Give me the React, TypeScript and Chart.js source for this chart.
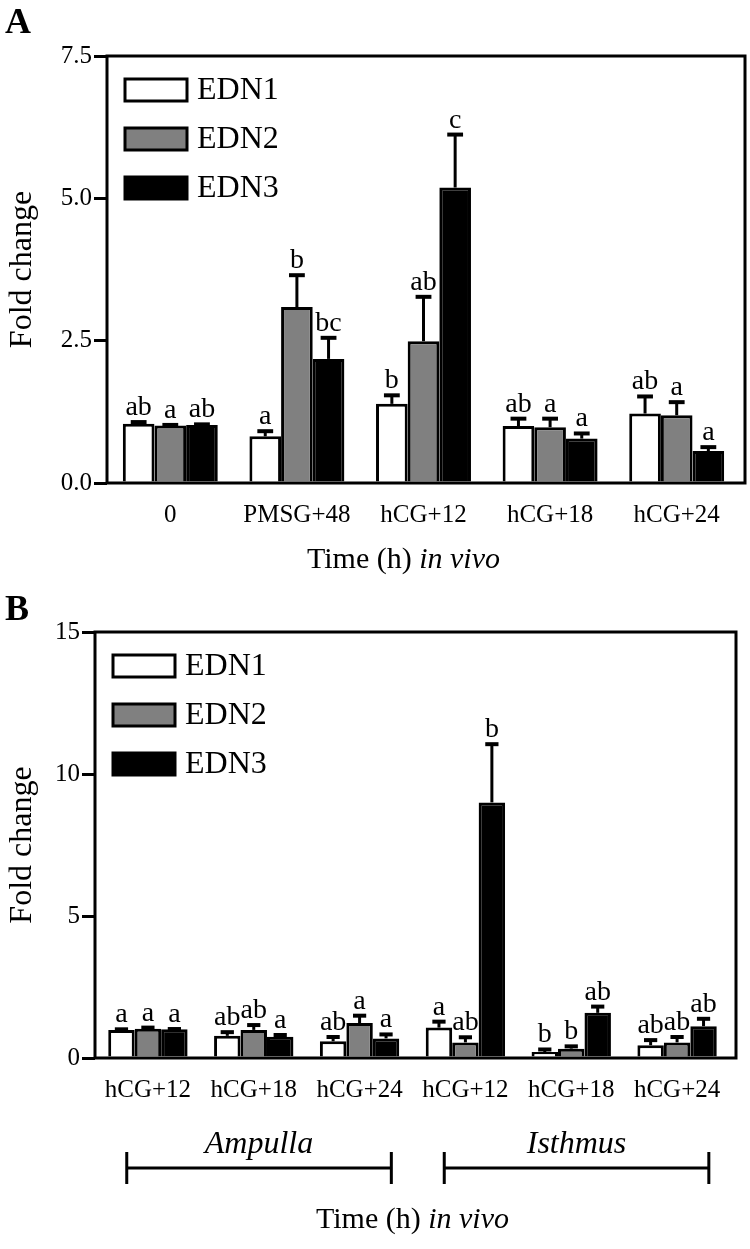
import React, { useEffect, useRef } from 'react';
import { Chart, registerables } from 'chart.js';

Chart.register(...registerables);

const FONT = '"Liberation Serif", "Times New Roman", Times, serif';

// ---------- shared ----------
const seriesNames = ['EDN1', 'EDN2', 'EDN3'];
const seriesColors = ['#ffffff', '#808080', '#000000'];

// ---------- panel A ----------
const categoriesA = ['0', 'PMSG+48', 'hCG+12', 'hCG+18', 'hCG+24'];
const edn1A = [1.04, 0.82, 1.39, 1.0, 1.22];
const edn1ErrA = [0.03, 0.09, 0.15, 0.13, 0.3];
const edn2A = [1.01, 3.09, 2.49, 0.98, 1.19];
const edn2ErrA = [0.01, 0.56, 0.78, 0.15, 0.23];
const edn3A = [1.02, 2.18, 5.19, 0.78, 0.56];
const edn3ErrA = [0.01, 0.37, 0.93, 0.09, 0.07];
const lettersEdn1A = ['ab', 'a', 'b', 'ab', 'ab'];
const lettersEdn2A = ['a', 'b', 'ab', 'a', 'a'];
const lettersEdn3A = ['ab', 'bc', 'c', 'a', 'a'];
const yTicksA = ['0.0', '2.5', '5.0', '7.5'];

// ---------- panel B ----------
const categoriesB = ['hCG+12', 'hCG+18', 'hCG+24', 'hCG+12', 'hCG+18', 'hCG+24'];
const edn1B = [0.99, 0.78, 0.59, 1.07, 0.21, 0.45];
const edn1ErrB = [0.02, 0.13, 0.15, 0.21, 0.09, 0.18];
const edn2B = [1.03, 0.99, 1.23, 0.55, 0.33, 0.55];
const edn2ErrB = [0.04, 0.17, 0.26, 0.18, 0.08, 0.19];
const edn3B = [1.01, 0.75, 0.69, 9.0, 1.59, 1.12];
const edn3ErrB = [0.01, 0.06, 0.14, 2.05, 0.22, 0.26];
const lettersEdn1B = ['a', 'ab', 'ab', 'a', 'b', 'ab'];
const lettersEdn2B = ['a', 'ab', 'a', 'ab', 'b', 'ab'];
const lettersEdn3B = ['a', 'a', 'a', 'b', 'ab', 'ab'];
const yTicksB = ['0', '5', '10', '15'];
const tissueGroupsB = ['Ampulla', 'Isthmus'];

const xTitleMain = 'Time (h) ';
const xTitleItalic = 'in vivo';
const yTitle = 'Fold change';

interface PanelOpts {
  panelLetter: string;
  letterY: number;
  catPct: number;
  yMax: number;
  yStep: number;
  yTicks: string[];
  yWidth: number;
  xHeight: number;
  padTop: number;
  padRight: number;
  frameExtra: number;
  xTickSize: number;
  xTickPad: number;
  titleY: number;
  titleShift: number;
  errs: number[][];
  letters: string[][];
  groups?: string[];
  groupTextY?: number;
  bracketY?: number;
}

function makePlugin(o: PanelOpts) {
  return {
    id: 'panelDecor',
    afterDatasetsDraw(chart: any) {
      const ctx = chart.ctx as CanvasRenderingContext2D;
      const yScale = chart.scales.y;
      ctx.save();
      chart.data.datasets.forEach((ds: any, i: number) => {
        const meta = chart.getDatasetMeta(i);
        meta.data.forEach((el: any, j: number) => {
          const v = ds.data[j] as number;
          const e = o.errs[i][j];
          const yTop = yScale.getPixelForValue(v + e);
          const x = el.x;
          const capW = el.width * 0.5;
          ctx.strokeStyle = '#000';
          ctx.lineWidth = 3;
          ctx.beginPath();
          ctx.moveTo(x, el.y);
          ctx.lineTo(x, yTop);
          ctx.stroke();
          ctx.lineWidth = 4;
          ctx.beginPath();
          ctx.moveTo(x - capW / 2, yTop);
          ctx.lineTo(x + capW / 2, yTop);
          ctx.stroke();
          ctx.fillStyle = '#000';
          ctx.font = `28px ${FONT}`;
          ctx.textAlign = 'center';
          ctx.textBaseline = 'alphabetic';
          ctx.fillText(o.letters[i][j], x, yTop - 7);
        });
      });
      ctx.restore();
    },
    afterDraw(chart: any) {
      const ctx = chart.ctx as CanvasRenderingContext2D;
      const { left, right, top, bottom } = chart.chartArea;
      ctx.save();
      // frame
      ctx.strokeStyle = '#000';
      ctx.lineWidth = 3;
      ctx.strokeRect(left, top, right + o.frameExtra - left, bottom - top);
      // legend
      chart.data.datasets.forEach((ds: any, i: number) => {
        const bx = left + 18;
        const by = top + 23 + i * 49;
        ctx.fillStyle = ds.backgroundColor;
        ctx.fillRect(bx, by, 62, 22);
        ctx.lineWidth = 3;
        ctx.strokeStyle = '#000';
        ctx.strokeRect(bx, by, 62, 22);
        ctx.fillStyle = '#000';
        ctx.font = `32px ${FONT}`;
        ctx.textAlign = 'left';
        ctx.textBaseline = 'middle';
        ctx.fillText(ds.label, bx + 72, by + 12);
      });
      // panel letter
      ctx.fillStyle = '#000';
      ctx.font = `bold 36px ${FONT}`;
      ctx.textAlign = 'left';
      ctx.textBaseline = 'alphabetic';
      ctx.fillText(o.panelLetter, 5, o.letterY);
      // x title
      const cx = (left + right) / 2 + o.titleShift;
      ctx.font = `30px ${FONT}`;
      const w1 = ctx.measureText(xTitleMain).width;
      ctx.font = `italic 30px ${FONT}`;
      const w2 = ctx.measureText(xTitleItalic).width;
      const sx = cx - (w1 + w2) / 2;
      ctx.font = `30px ${FONT}`;
      ctx.fillText(xTitleMain, sx, o.titleY);
      ctx.font = `italic 30px ${FONT}`;
      ctx.fillText(xTitleItalic, sx + w1, o.titleY);
      // group brackets
      if (o.groups && o.bracketY !== undefined && o.groupTextY !== undefined) {
        const xs = chart.scales.x;
        const step = xs.getPixelForValue(1) - xs.getPixelForValue(0);
        o.groups.forEach((g, gi) => {
          const x0 = xs.getPixelForValue(gi * 3) - step * 0.2;
          const x1 = xs.getPixelForValue(gi * 3 + 2) + step * 0.3;
          const y = o.bracketY as number;
          ctx.lineWidth = 3;
          ctx.beginPath();
          ctx.moveTo(x0, y);
          ctx.lineTo(x1, y);
          ctx.moveTo(x0, y - 16);
          ctx.lineTo(x0, y + 16);
          ctx.moveTo(x1, y - 16);
          ctx.lineTo(x1, y + 16);
          ctx.stroke();
          ctx.font = `italic 32px ${FONT}`;
          ctx.textAlign = 'center';
          ctx.fillText(g, (x0 + x1) / 2, o.groupTextY as number);
        });
      }
      ctx.restore();
    },
  };
}

function buildConfig(labels: string[], series: number[][], o: PanelOpts): any {
  return {
    type: 'bar',
    data: {
      labels,
      datasets: series.map((d, i) => ({
        label: seriesNames[i],
        data: d,
        backgroundColor: seriesColors[i],
        borderColor: '#000',
        borderWidth: 3,
        categoryPercentage: o.catPct,
        barPercentage: 1.0,
      })),
    },
    options: {
      responsive: false,
      animation: false,
      layout: { padding: { left: 0, top: o.padTop, right: o.padRight, bottom: 0 } },
      plugins: { legend: { display: false }, tooltip: { enabled: false } },
      scales: {
        x: {
          type: 'category',
          grid: { display: false, drawTicks: false },
          border: { display: false },
          ticks: {
            color: '#000',
            font: { family: FONT, size: o.xTickSize },
            padding: o.xTickPad,
            maxRotation: 0,
            autoSkip: false,
          },
          afterFit: (s: any) => {
            s.height = o.xHeight;
          },
        },
        y: {
          min: 0,
          max: o.yMax,
          grid: {
            display: true,
            drawOnChartArea: false,
            drawTicks: true,
            tickLength: 13,
            color: '#000',
            lineWidth: 3,
          },
          border: { display: false },
          ticks: {
            stepSize: o.yStep,
            color: '#000',
            padding: 2,
            font: { family: FONT, size: 25 },
            callback: (_v: any, idx: number) => o.yTicks[idx],
          },
          title: {
            display: true,
            text: yTitle,
            color: '#000',
            font: { family: FONT, size: 32 },
            padding: { top: 3, bottom: 0 },
          },
          afterFit: (s: any) => {
            s.width = o.yWidth;
          },
        },
      },
    },
  };
}

const optsA: PanelOpts = {
  panelLetter: 'A',
  letterY: 33,
  catPct: 0.75,
  yMax: 7.5,
  yStep: 2.5,
  yTicks: yTicksA,
  yWidth: 107,
  xHeight: 112,
  padTop: 56,
  padRight: 10,
  frameExtra: 5,
  xTickSize: 25,
  xTickPad: 17,
  titleY: 568,
  titleShift: -20,
  errs: [edn1ErrA, edn2ErrA, edn3ErrA],
  letters: [lettersEdn1A, lettersEdn2A, lettersEdn3A],
};

const optsB: PanelOpts = {
  panelLetter: 'B',
  letterY: 25,
  catPct: 0.75,
  yMax: 15,
  yStep: 5,
  yTicks: yTicksB,
  yWidth: 95,
  xHeight: 191,
  padTop: 37,
  padRight: 20,
  frameExtra: 6,
  xTickSize: 25,
  xTickPad: 17,
  titleY: 633,
  titleShift: 0,
  errs: [edn1ErrB, edn2ErrB, edn3ErrB],
  letters: [lettersEdn1B, lettersEdn2B, lettersEdn3B],
  groups: tissueGroupsB,
  groupTextY: 558,
  bracketY: 573,
};

export default function App() {
  const refA = useRef<HTMLCanvasElement | null>(null);
  const refB = useRef<HTMLCanvasElement | null>(null);

  useEffect(() => {
    const cfgA = buildConfig(categoriesA, [edn1A, edn2A, edn3A], optsA);
    cfgA.plugins = [makePlugin(optsA)];
    const cfgB = buildConfig(categoriesB, [edn1B, edn2B, edn3B], optsB);
    cfgB.plugins = [makePlugin(optsB)];
    const a = new Chart(refA.current as HTMLCanvasElement, cfgA);
    const b = new Chart(refB.current as HTMLCanvasElement, cfgB);
    return () => {
      a.destroy();
      b.destroy();
    };
  }, []);

  return (
    <div style={{ position: 'absolute', left: 0, top: 0, width: 750, height: 1249, background: '#fff' }}>
      <canvas ref={refA} width={750} height={595} style={{ position: 'absolute', left: 0, top: 0, width: 750, height: 595 }} />
      <canvas ref={refB} width={750} height={654} style={{ position: 'absolute', left: 0, top: 595, width: 750, height: 654 }} />
    </div>
  );
}
